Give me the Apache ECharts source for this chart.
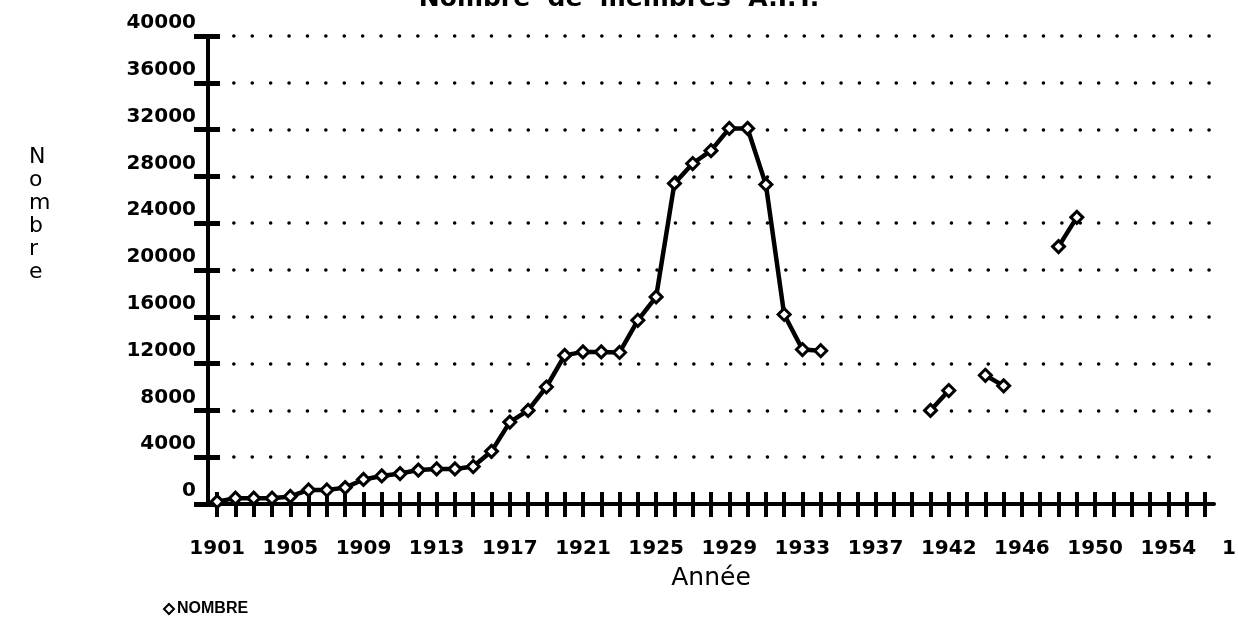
<!DOCTYPE html>
<html><head><meta charset="utf-8">
<script src="https://cdn.jsdelivr.net/npm/echarts@6/dist/echarts.min.js"></script>
<style>html,body{margin:0;padding:0;background:#fff}#c{width:1238px;height:641px}</style>
</head><body><div id="c"></div>
<script>
const titleText = 'Nombre  de  membres  A.I.T.';
const xName = 'Année';
const yName = 'N\no\nm\nb\nr\ne';
const seriesName = 'NOMBRE';
const years = [];
for (let y = 1901; y <= 1938; y++) years.push(String(y));
years.push('1940', '1941');
for (let y = 1942; y <= 1956; y++) years.push(String(y));
const nombre = [
  200, 500, 500, 500, 650, 1200, 1200, 1400, 2100, 2400,
  2600, 2900, 3000, 3000, 3200, 4500, 7000, 8000, 10000, 12700,
  13000, 13000, 12950, 15700, 17700, 27400, 29100, 30200, 32100, 32100,
  27300, 16200, 13200, 13100, null, null, null, null, null, 8000,
  9700, null, 11000, 10100, null, null, 22000, 24500, null, null,
  null, null, null, null, null
];
const yMin = 0, yMax = 40000, yStep = 4000;

const font = 'DejaVu Sans';
const chart = echarts.init(document.getElementById('c'));
const xBase = {
  type: 'category', data: years, boundaryGap: true, position: 'bottom'
};
const yBase = { type: 'value', min: yMin, max: yMax, interval: yStep, position: 'left' };
chart.setOption({
  animation: false,
  backgroundColor: '#fff',
  title: [
    { text: titleText, left: 'center', top: -18, textStyle: { fontFamily: font, fontWeight: 'bold', fontSize: 25, color: '#000' } },
    { text: yName, left: 24, top: 141, textStyle: { fontFamily: font, fontWeight: 'normal', fontSize: 22, lineHeight: 23, color: '#000', align: 'center' } }
  ],
  grid: { left: 208, right: 24, top: 36, bottom: 137 },
  legend: {
    data: [{ name: seriesName, icon: 'diamond' }],
    left: 158, top: 596, itemWidth: 10, itemHeight: 10, itemGap: 4,
    textStyle: { fontFamily: 'Liberation Sans', fontWeight: 'bold', fontSize: 16, color: '#000', padding: [0, 0, 0, -2] }
  },
  xAxis: [
    Object.assign({}, xBase, {
      name: xName, nameLocation: 'middle', nameGap: 62,
      nameTextStyle: { fontFamily: font, fontSize: 25, color: '#000' },
      axisLine: { show: true, lineStyle: { color: '#000', width: 4 } },
      axisTick: { show: true, alignWithLabel: true, interval: 0, length: 13, lineStyle: { color: '#000', width: 4 } },
      axisLabel: { interval: 3, margin: 35, fontFamily: font, fontWeight: 'bold', fontSize: 20, color: '#000' },
      splitLine: { show: false }
    }),
    Object.assign({}, xBase, {
      axisLine: { show: false },
      axisTick: { show: true, inside: true, alignWithLabel: true, interval: 0, length: 12, lineStyle: { color: '#000', width: 4 } },
      axisLabel: { show: false },
      splitLine: { show: false }
    })
  ],
  yAxis: [
    Object.assign({}, yBase, {
      axisLine: { show: true, lineStyle: { color: '#000', width: 4 } },
      axisTick: { show: true, length: 14, lineStyle: { color: '#000', width: 5 } },
      axisLabel: { margin: 12, fontFamily: font, fontWeight: 'bold', fontSize: 20, color: '#000', verticalAlign: 'bottom', padding: [0, 0, 3, 0], formatter: v => String(v) },
      splitLine: { show: true, lineStyle: { color: '#000', width: 3.5, type: [0.1, 18.3], cap: 'round', dashOffset: 11 } }
    }),
    Object.assign({}, yBase, {
      axisLine: { show: false },
      axisTick: { show: true, inside: true, length: 12, lineStyle: { color: '#000', width: 5 } },
      axisLabel: { show: false },
      splitLine: { show: false }
    })
  ],
  graphic: [
    { type: 'text', left: 1222, top: 539, style: { text: '1', fontFamily: font, fontWeight: 'bold', fontSize: 20, fill: '#000' } }
  ],
  series: [{
    name: seriesName, type: 'line', xAxisIndex: 0, yAxisIndex: 0,
    data: nombre, connectNulls: false,
    symbol: 'diamond', symbolSize: 12, showSymbol: true,
    lineStyle: { color: '#000', width: 4.5 },
    itemStyle: { color: '#fff', borderColor: '#000', borderWidth: 3 }
  }]
});
</script></body></html>
